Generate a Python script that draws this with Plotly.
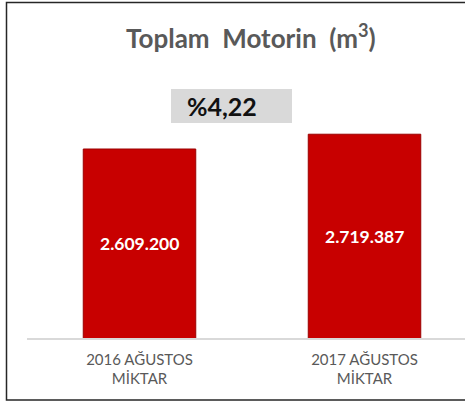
import plotly.graph_objects as go

categories = ["2016 AĞUSTOS<br>MİKTAR", "2017 AĞUSTOS<br>MİKTAR"]
values = [2609200, 2719387]
value_labels = ["2.609.200", "2.719.387"]
title_text = "<b>Toplam  Motorin  (m<sup>3</sup>)</b>"
change_text = "<b>%4,22</b>"

W, H = 465, 405
L, R, T, B = 27, 0, 60, 67
pw = W - L - R
ph = H - T - B
YMIN = 1.2e6

def px(x):
    return (x - L) / pw

def py(y):
    return (H - B - y) / ph

FONT = "Lato, Calibri, Carlito, sans-serif"

fig = go.Figure()
fig.add_trace(go.Bar(
    x=[0, 1], y=values, width=0.5,
    marker=dict(color="#c80000", line=dict(color="#9a0000", width=1)),
    hoverinfo="skip",
))

label_annotations = [
    dict(text="<b>%s</b>" % lab, xref="x", yref="y",
         x=i, y=(YMIN + v) / 2, xanchor="center", yanchor="middle",
         showarrow=False, font=dict(family=FONT, size=17.5, color="white"))
    for i, (v, lab) in enumerate(zip(values, value_labels))
]

fig.update_layout(
    width=W, height=H,
    margin=dict(l=L, r=R, t=T, b=B),
    paper_bgcolor="white", plot_bgcolor="white",
    showlegend=False,
    xaxis=dict(
        range=[-0.5, (W - L) / 225 - 0.5],
        tickvals=[0, 1], ticktext=categories,
        tickfont=dict(family=FONT, size=15, color="#595959"),
        ticklabelstandoff=7,
        showgrid=False, zeroline=False,
        showline=True, linecolor="#d9d9d9", linewidth=1.5,
        ticks="", fixedrange=True,
    ),
    yaxis=dict(
        range=[YMIN, YMIN + ph / (189 / 1409200)],
        visible=False, fixedrange=True,
    ),
    shapes=[
        dict(type="rect", xref="paper", yref="paper",
             x0=px(171), x1=px(292), y0=py(123), y1=py(89),
             fillcolor="#d9d9d9", line=dict(width=0), layer="below"),
        dict(type="rect", xref="paper", yref="paper",
             x0=px(6.5), x1=px(470), y0=py(400), y1=py(2.5),
             fillcolor="rgba(0,0,0,0)", line=dict(color="#262626", width=1.5)),
    ],
    annotations=[
        dict(text=title_text, xref="paper", yref="paper",
             x=px(251), y=py(36), xanchor="center", yanchor="middle",
             showarrow=False, font=dict(family=FONT, size=26, color="#595959")),
        dict(text=change_text, xref="paper", yref="paper",
             x=px(222), y=py(106), xanchor="center", yanchor="middle",
             showarrow=False, font=dict(family=FONT, size=25, color="#111111")),
    ] + label_annotations,
)

fig.write_html("out.html", post_script="document.body.style.margin='0';",
               config={"displayModeBar": False})
